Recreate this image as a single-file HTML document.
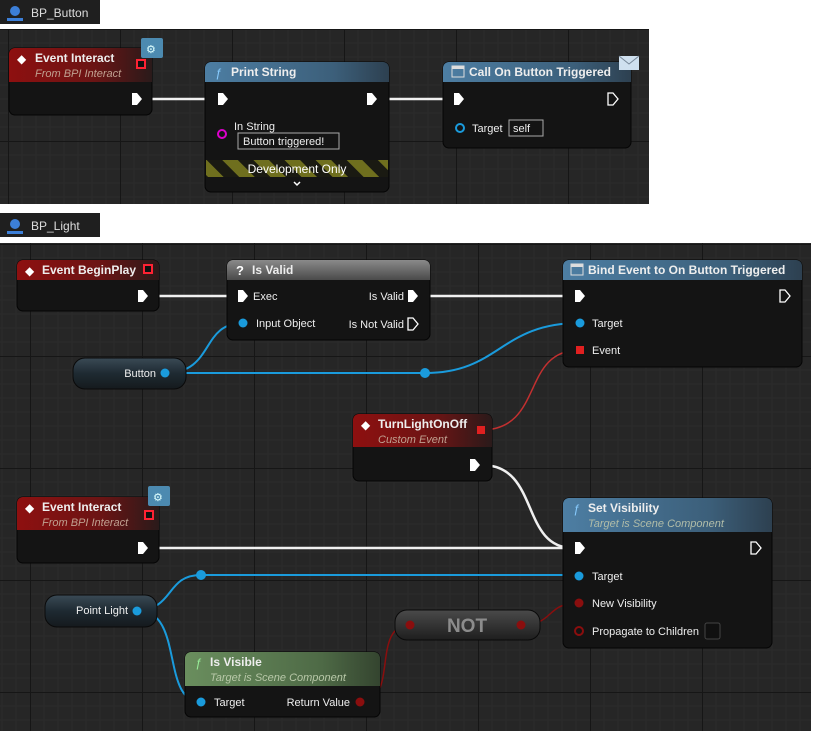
<!DOCTYPE html>
<html><head><meta charset="utf-8"><style>
html,body{margin:0;padding:0;background:#fff;width:820px;height:738px;overflow:hidden}
svg text{font-family:"Liberation Sans",sans-serif}
</style></head><body>
<svg width="820" height="738" viewBox="0 0 820 738" xmlns="http://www.w3.org/2000/svg">
<defs>
<pattern id="g1" x="8" y="29" width="112" height="112" patternUnits="userSpaceOnUse">
<rect width="112" height="112" fill="#262626"/>
<path d="M14 0V112M28 0V112M42 0V112M56 0V112M70 0V112M84 0V112M98 0V112M0 14H112M0 28H112M0 42H112M0 56H112M0 70H112M0 84H112M0 98H112" stroke="#2c2c2c" stroke-width="1"/>
<path d="M0 0V112M0 0H112" stroke="#161616" stroke-width="2"/>
</pattern>
<pattern id="g2" x="30" y="20" width="112" height="112" patternUnits="userSpaceOnUse">
<rect width="112" height="112" fill="#262626"/>
<path d="M14 0V112M28 0V112M42 0V112M56 0V112M70 0V112M84 0V112M98 0V112M0 14H112M0 28H112M0 42H112M0 56H112M0 70H112M0 84H112M0 98H112" stroke="#2c2c2c" stroke-width="1"/>
<path d="M0 0V112M0 0H112" stroke="#161616" stroke-width="2"/>
</pattern>
<linearGradient id="red" x1="0" y1="0" x2="1" y2="0"><stop offset="0" stop-color="#8e1010"/><stop offset="0.6" stop-color="#6a1414"/><stop offset="1" stop-color="#2a1a1a"/></linearGradient>
<linearGradient id="blue" x1="0" y1="0" x2="1" y2="0"><stop offset="0" stop-color="#4d7ea3"/><stop offset="0.7" stop-color="#3c5f7a"/><stop offset="1" stop-color="#2d4050"/></linearGradient>
<linearGradient id="grey" x1="0" y1="0" x2="0" y2="1"><stop offset="0" stop-color="#8a8a8a"/><stop offset="1" stop-color="#4a4a4a"/></linearGradient>
<linearGradient id="green" x1="0" y1="0" x2="1" y2="0"><stop offset="0" stop-color="#6a8e5e"/><stop offset="0.7" stop-color="#4e6a46"/><stop offset="1" stop-color="#34442f"/></linearGradient>
<linearGradient id="pill" x1="0" y1="0" x2="0" y2="1"><stop offset="0" stop-color="#3a4a55"/><stop offset="0.5" stop-color="#1e2a32"/><stop offset="1" stop-color="#151a1d"/></linearGradient>
<linearGradient id="notg" x1="0" y1="0" x2="0" y2="1"><stop offset="0" stop-color="#4a4a4a"/><stop offset="1" stop-color="#1e1e1e"/></linearGradient>
<pattern id="stripe" width="22" height="22" patternUnits="userSpaceOnUse" patternTransform="rotate(-45)"><rect width="22" height="22" fill="#1a1a12"/><rect width="11" height="22" fill="#6f6f1e"/></pattern>
</defs>
<!-- tabs -->
<rect x="0" y="0" width="100" height="24" fill="#1f1f1f"/>
<circle cx="15" cy="11" r="5" fill="#3c7fd8"/><rect x="7" y="18" width="16" height="3" fill="#3c7fd8"/>
<text x="31" y="17" font-size="12" fill="#ddd">BP_Button</text>
<rect x="0" y="29" width="649" height="175" fill="url(#g1)"/>
<rect x="0" y="213" width="100" height="24" fill="#1f1f1f"/>
<circle cx="15" cy="224" r="5" fill="#3c7fd8"/><rect x="7" y="231" width="16" height="3" fill="#3c7fd8"/>
<text x="31" y="230" font-size="12" fill="#ddd">BP_Light</text>
<rect x="0" y="243" width="811" height="488" fill="url(#g2)"/>

<g fill="none" stroke-linecap="round">
<!-- top wires -->
<path d="M145 99H216" stroke="#f0f0f0" stroke-width="2.5"/>
<path d="M378 99H453" stroke="#f0f0f0" stroke-width="2.5"/>
<!-- bottom wires -->
<path d="M150 296H236" stroke="#f0f0f0" stroke-width="2.5"/>
<path d="M418 296H573" stroke="#f0f0f0" stroke-width="2.5"/>
<path d="M150 548H573" stroke="#f0f0f0" stroke-width="2.5"/>
<path d="M482 465C540 465 520 548 573 548" stroke="#f0f0f0" stroke-width="2.5"/>
<path d="M165 373C215 373 200 323 243 323" stroke="#1a9bdc" stroke-width="2"/>
<path d="M165 373H425C500 373 500 323 580 323" stroke="#1a9bdc" stroke-width="2"/>
<path d="M137 610C175 610 165 575 201 575H579" stroke="#1a9bdc" stroke-width="2"/>
<path d="M137 610C185 610 160 702 201 702" stroke="#1a9bdc" stroke-width="2"/>
<path d="M481 430C545 430 520 350 580 350" stroke="#c23030" stroke-width="1.5"/>
<path d="M360 702C400 702 370 625 410 625" stroke="#8a0e0e" stroke-width="1.5"/>
<path d="M521 625C555 625 545 603 579 603" stroke="#8a0e0e" stroke-width="1.5"/>
</g>
<circle cx="425" cy="373" r="5" fill="#1a9bdc"/>
<circle cx="201" cy="575" r="5" fill="#1a9bdc"/>

<!-- TOP: Event Interact -->
<rect x="9" y="48" width="143" height="67" rx="6" fill="#141414" stroke="#050505"/>
<path d="M15 48H146a6 6 0 0 1 6 6V82H9V54a6 6 0 0 1 6-6z" fill="url(#red)"/>
<text x="17" y="63" font-size="12" fill="#fff">◆</text>
<text x="35" y="62" font-size="12" font-weight="bold" fill="#eee">Event Interact</text>
<text x="35" y="77" font-size="11" font-style="italic" fill="#c0a090">From BPI Interact</text>
<rect x="137" y="60" width="8" height="8" fill="#111" stroke="#f23" stroke-width="2"/>
<rect x="141" y="38" width="22" height="20" rx="2" fill="#4c8ab0"/><text x="146" y="53" font-size="11" fill="#dff">⚙</text>
<path d="M132 93h5l5 6-5 6h-5z" fill="#fff"/>
<!-- Print String -->
<rect x="205" y="62" width="184" height="130" rx="6" fill="#141414" stroke="#050505"/>
<path d="M211 62H383a6 6 0 0 1 6 6V82H205V68a6 6 0 0 1 6-6z" fill="url(#blue)"/>
<text x="215" y="77" font-size="12" font-style="italic" fill="#8cf">ƒ</text>
<text x="231" y="76" font-size="12" font-weight="bold" fill="#eee">Print String</text>
<path d="M218 93h5l5 6-5 6h-5z" fill="#fff"/>
<path d="M367 93h5l5 6-5 6h-5z" fill="#fff"/>
<circle cx="222" cy="134" r="4" fill="none" stroke="#d0c" stroke-width="2"/>
<text x="234" y="130" font-size="11" fill="#eee">In String</text>
<rect x="238" y="133" width="101" height="16" fill="none" stroke="#aaa"/>
<text x="243" y="145" font-size="11" fill="#eee">Button triggered!</text>
<rect x="206" y="160" width="182" height="17" fill="url(#stripe)"/>
<text x="297" y="173" font-size="12" fill="#fff" text-anchor="middle">Development Only</text>
<path d="M294 182l3 3 3-3" stroke="#fff" stroke-width="1.5" fill="none"/>
<!-- Call On Button Triggered -->
<rect x="443" y="62" width="188" height="86" rx="6" fill="#141414" stroke="#050505"/>
<path d="M449 62H625a6 6 0 0 1 6 6V82H443V68a6 6 0 0 1 6-6z" fill="url(#blue)"/>
<rect x="452" y="66" width="12" height="11" fill="none" stroke="#ddd"/><rect x="452" y="66" width="12" height="3" fill="#ddd"/>
<text x="469" y="76" font-size="12" font-weight="bold" fill="#eee">Call On Button Triggered</text>
<path d="M619 56h20v14h-20z" fill="#cfe0ef"/><path d="M619 56l10 8 10-8" stroke="#789" fill="none"/>
<path d="M454 93h5l5 6-5 6h-5z" fill="#fff"/>
<path d="M608 93h5l5 6-5 6h-5z" fill="none" stroke="#fff" stroke-width="1.3"/>
<circle cx="460" cy="128" r="4" fill="none" stroke="#1a9bdc" stroke-width="2"/>
<text x="472" y="132" font-size="11" fill="#eee">Target</text>
<rect x="509" y="120" width="34" height="16" fill="none" stroke="#aaa"/>
<text x="513" y="132" font-size="11" fill="#eee">self</text>

<!-- BOTTOM: Event BeginPlay -->
<rect x="17" y="260" width="142" height="51" rx="6" fill="#141414" stroke="#050505"/>
<path d="M23 260H153a6 6 0 0 1 6 6V280H17V266a6 6 0 0 1 6-6z" fill="url(#red)"/>
<text x="25" y="275" font-size="12" fill="#fff">◆</text>
<text x="42" y="274" font-size="12" font-weight="bold" fill="#eee">Event BeginPlay</text>
<rect x="144" y="265" width="8" height="8" fill="#111" stroke="#f23" stroke-width="2"/>
<path d="M138 290h5l5 6-5 6h-5z" fill="#fff"/>
<!-- Is Valid -->
<rect x="227" y="260" width="203" height="80" rx="6" fill="#141414" stroke="#050505"/>
<path d="M233 260H424a6 6 0 0 1 6 6V280H227V266a6 6 0 0 1 6-6z" fill="url(#grey)"/>
<text x="236" y="275" font-size="13" font-weight="bold" fill="#fff">?</text>
<text x="252" y="274" font-size="12" font-weight="bold" fill="#eee">Is Valid</text>
<path d="M238 290h5l5 6-5 6h-5z" fill="#fff"/>
<text x="253" y="300" font-size="11" fill="#eee">Exec</text>
<text x="404" y="300" font-size="11" fill="#eee" text-anchor="end">Is Valid</text>
<path d="M408 290h5l5 6-5 6h-5z" fill="#fff"/>
<circle cx="243" cy="323" r="4.5" fill="#1a9bdc"/>
<text x="256" y="327" font-size="11" fill="#eee">Input Object</text>
<text x="404" y="328" font-size="11" fill="#eee" text-anchor="end">Is Not Valid</text>
<path d="M408 318h5l5 6-5 6h-5z" fill="none" stroke="#fff" stroke-width="1.3"/>
<!-- Button var -->
<rect x="73" y="358" width="113" height="31" rx="12" fill="url(#pill)" stroke="#0a0a0a"/>
<text x="156" y="377" font-size="11" fill="#eee" text-anchor="end">Button</text>
<circle cx="165" cy="373" r="4.5" fill="#1a9bdc"/>
<!-- Bind Event -->
<rect x="563" y="260" width="239" height="107" rx="6" fill="#141414" stroke="#050505"/>
<path d="M569 260H796a6 6 0 0 1 6 6V280H563V266a6 6 0 0 1 6-6z" fill="url(#blue)"/>
<rect x="571" y="264" width="12" height="11" fill="none" stroke="#ddd"/><rect x="571" y="264" width="12" height="3" fill="#ddd"/>
<text x="588" y="274" font-size="12" font-weight="bold" fill="#eee">Bind Event to On Button Triggered</text>
<path d="M575 290h5l5 6-5 6h-5z" fill="#fff"/>
<path d="M780 290h5l5 6-5 6h-5z" fill="none" stroke="#fff" stroke-width="1.3"/>
<circle cx="580" cy="323" r="4.5" fill="#1a9bdc"/>
<text x="592" y="327" font-size="11" fill="#eee">Target</text>
<rect x="576" y="346" width="8" height="8" fill="#e02020"/>
<text x="592" y="354" font-size="11" fill="#eee">Event</text>
<!-- TurnLightOnOff -->
<rect x="353" y="414" width="139" height="67" rx="6" fill="#141414" stroke="#050505"/>
<path d="M359 414H486a6 6 0 0 1 6 6V447H353V420a6 6 0 0 1 6-6z" fill="url(#red)"/>
<text x="361" y="429" font-size="12" fill="#fff">◆</text>
<text x="378" y="428" font-size="12" font-weight="bold" fill="#eee">TurnLightOnOff</text>
<text x="378" y="443" font-size="11" font-style="italic" fill="#c0a090">Custom Event</text>
<rect x="477" y="426" width="8" height="8" fill="#e02020"/>
<path d="M470 459h5l5 6-5 6h-5z" fill="#fff"/>
<!-- Event Interact 2 -->
<rect x="17" y="497" width="142" height="66" rx="6" fill="#141414" stroke="#050505"/>
<path d="M23 497H153a6 6 0 0 1 6 6V530H17V503a6 6 0 0 1 6-6z" fill="url(#red)"/>
<text x="25" y="512" font-size="12" fill="#fff">◆</text>
<text x="42" y="511" font-size="12" font-weight="bold" fill="#eee">Event Interact</text>
<text x="42" y="526" font-size="11" font-style="italic" fill="#c0a090">From BPI Interact</text>
<rect x="145" y="511" width="8" height="8" fill="#111" stroke="#f23" stroke-width="2"/>
<rect x="148" y="486" width="22" height="20" rx="2" fill="#4c8ab0"/><text x="153" y="501" font-size="11" fill="#dff">⚙</text>
<path d="M138 542h5l5 6-5 6h-5z" fill="#fff"/>
<!-- Set Visibility -->
<rect x="563" y="498" width="209" height="150" rx="6" fill="#141414" stroke="#050505"/>
<path d="M569 498H766a6 6 0 0 1 6 6V532H563V504a6 6 0 0 1 6-6z" fill="url(#blue)"/>
<text x="573" y="513" font-size="12" font-style="italic" fill="#8cf">ƒ</text>
<text x="588" y="512" font-size="12" font-weight="bold" fill="#eee">Set Visibility</text>
<text x="588" y="527" font-size="11" font-style="italic" fill="#b0bca8">Target is Scene Component</text>
<path d="M575 542h5l5 6-5 6h-5z" fill="#fff"/>
<path d="M751 542h5l5 6-5 6h-5z" fill="none" stroke="#fff" stroke-width="1.3"/>
<circle cx="579" cy="576" r="4.5" fill="#1a9bdc"/>
<text x="592" y="580" font-size="11" fill="#eee">Target</text>
<circle cx="579" cy="603" r="4.5" fill="#8a0e0e"/>
<text x="592" y="607" font-size="11" fill="#eee">New Visibility</text>
<circle cx="579" cy="631" r="4" fill="none" stroke="#8a0e0e" stroke-width="2"/>
<text x="592" y="635" font-size="11" fill="#eee">Propagate to Children</text>
<rect x="705" y="623" width="15" height="16" rx="2" fill="#101010" stroke="#444"/>
<!-- Point Light -->
<rect x="45" y="595" width="112" height="32" rx="12" fill="url(#pill)" stroke="#0a0a0a"/>
<text x="128" y="614" font-size="11" fill="#eee" text-anchor="end">Point Light</text>
<circle cx="137" cy="611" r="4.5" fill="#1a9bdc"/>
<!-- NOT -->
<rect x="395" y="610" width="145" height="30" rx="12" fill="url(#notg)" stroke="#0a0a0a"/>
<text x="467" y="632" font-size="19" font-weight="bold" fill="#8c8c8c" text-anchor="middle">NOT</text>
<circle cx="410" cy="625" r="4.5" fill="#8a0e0e"/>
<circle cx="521" cy="625" r="4.5" fill="#8a0e0e"/>
<!-- Is Visible -->
<rect x="185" y="652" width="195" height="65" rx="6" fill="#141414" stroke="#050505"/>
<path d="M191 652H374a6 6 0 0 1 6 6V686H185V658a6 6 0 0 1 6-6z" fill="url(#green)"/>
<text x="195" y="667" font-size="12" font-style="italic" fill="#9e9">ƒ</text>
<text x="210" y="666" font-size="12" font-weight="bold" fill="#eee">Is Visible</text>
<text x="210" y="681" font-size="11" font-style="italic" fill="#b8c8a8">Target is Scene Component</text>
<circle cx="201" cy="702" r="4.5" fill="#1a9bdc"/>
<text x="214" y="706" font-size="11" fill="#eee">Target</text>
<text x="350" y="706" font-size="11" fill="#eee" text-anchor="end">Return Value</text>
<circle cx="360" cy="702" r="4.5" fill="#8a0e0e"/>
</svg>
</body></html>
